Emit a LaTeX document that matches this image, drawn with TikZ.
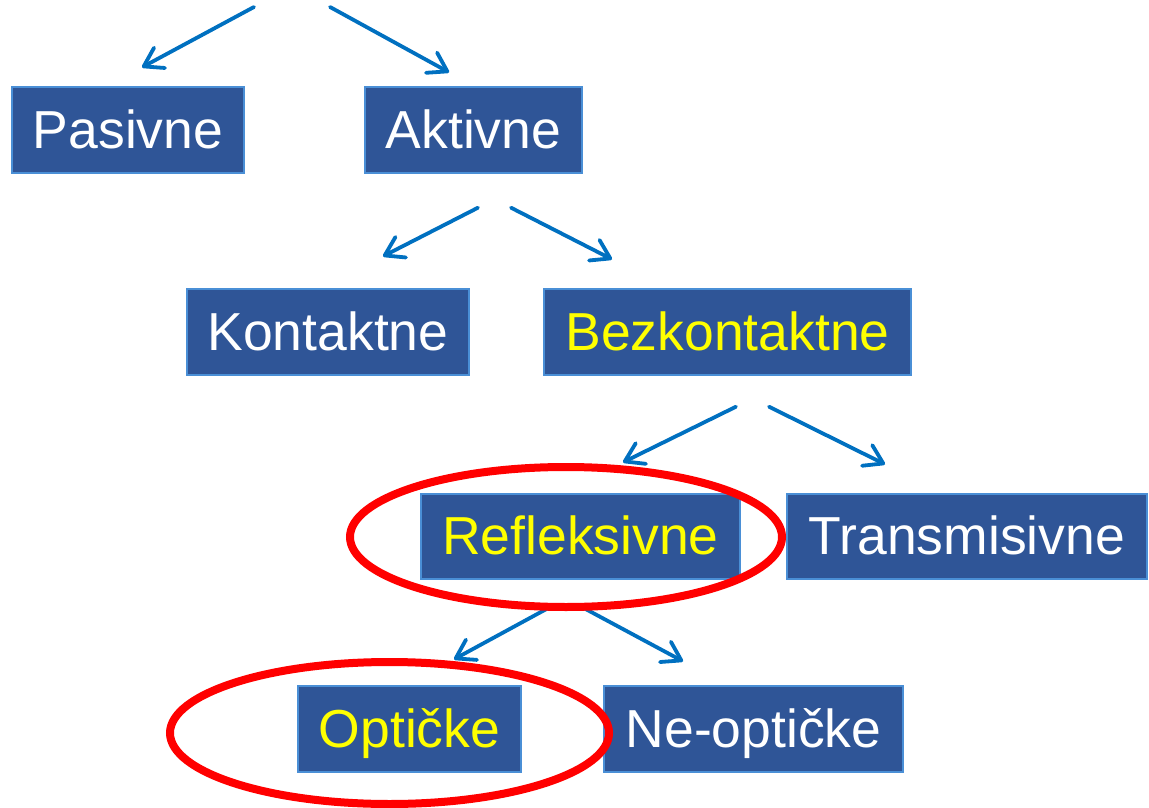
\documentclass[tikz,border=0pt]{standalone}
\usepackage{fontspec}
\setmainfont{Liberation Sans}
\usetikzlibrary{arrows.meta,calc}

\definecolor{boxfill}{HTML}{2F5597}
\definecolor{boxedge}{HTML}{4A8FD6}
\definecolor{arrowblue}{HTML}{0070C0}
\definecolor{hiyellow}{HTML}{FFFF00}
\definecolor{ringred}{HTML}{FF0000}

\tikzset{
  catbox/.style={draw=boxedge, line width=1.4pt, fill=boxfill, text=white,
    inner sep=0pt, minimum height=86pt,
    font=\fontsize{53.5}{62}\selectfont, text height=36pt, text depth=0pt},
  picked/.style={text=hiyellow},
  arr/.style={draw=arrowblue, line width=3.8pt, line cap=round,
    -{Straight Barb[length=18pt, width=23pt, line cap=round, line join=round]}},
  ring/.style={draw=ringred, line width=8pt}
}

\begin{document}
\begin{tikzpicture}[x=1pt, y=-1pt]
  \useasboundingbox (0,0) rectangle (1149,808);

  % category boxes
  \node[catbox, minimum width=232pt] (pas) at (128,130) {Pasivne};
  \node[catbox, minimum width=217pt] (akt) at (473.5,130) {Aktivne};
  \node[catbox, minimum width=282pt] (kon) at (328,332) {Kontaktne};
  \node[catbox, picked, minimum width=367pt] (bez) at (727.5,332) {Bezkontaktne};
  \node[catbox, picked, minimum width=319pt, minimum height=85pt] (ref) at (580.5,536.5) {Refleksivne};
  \node[catbox, minimum width=360pt, minimum height=85pt] (tra) at (967,536.5) {Transmisivne};
  \node[catbox, picked, minimum width=223pt] (opt) at (409.5,729) {Optičke};
  \node[catbox, minimum width=299pt] (neo) at (753.5,729) {Ne-optičke};

  % split from the top level
  \coordinate (root) at (292,7);
  \draw[arr] ($(root)+(-38,0)$) -- ($(pas.north)+(14,-19)$);
  \draw[arr] ($(root)+(38,0)$) -- ($(akt.north)+(-24.5,-14)$);

  % Aktivne
  \draw[arr] ($(akt.south)+(4.5,34)$) -- ($(kon.north)+(55,-32)$);
  \draw[arr] ($(akt.south)+(37.5,34)$) -- ($(bez.north)+(-115.5,-29)$);

  % Bezkontaktne
  \draw[arr] ($(bez.south)+(8.5,31)$) -- ($(ref.north)+(42.5,-31)$);
  \draw[arr] ($(bez.south)+(41.5,31)$) -- ($(tra.north)+(-82,-29)$);

  % Refleksivne
  \draw[arr] ($(ref.south)+(-33.5,29)$) -- ($(opt.north)+(44.5,-26)$);
  \draw[arr] ($(ref.south)+(4.5,29)$) -- ($(neo.north)+(-70.5,-24)$);

  % highlighted choices
  \draw[ring] (566,537) ellipse [x radius=216, y radius=70];
  \draw[ring] (389.5,733) ellipse [x radius=219.5, y radius=71];
\end{tikzpicture}
\end{document}
